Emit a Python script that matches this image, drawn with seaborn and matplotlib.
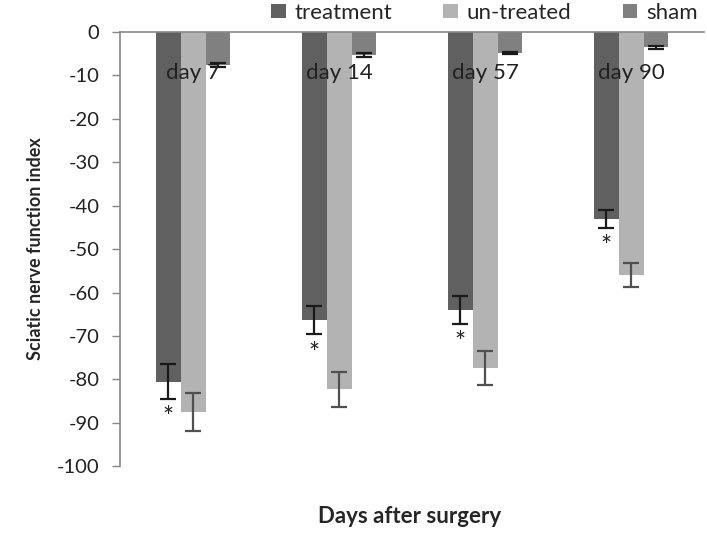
import numpy as np
import pandas as pd
import matplotlib
matplotlib.use('Agg')
import matplotlib.pyplot as plt
import matplotlib.transforms as mtransforms
import seaborn as sns

# values
days = ['day 7', 'day 14', 'day 57', 'day 90']
groups = ['treatment', 'un-treated', 'sham']
treatment = [-80.5, -66.3, -64.0, -43.0]
treatment_err = [4.0, 3.3, 3.2, 2.1]
untreated = [-87.6, -82.3, -77.4, -56.0]
untreated_err = [4.4, 4.0, 3.9, 2.8]
sham = [-7.6, -5.3, -4.8, -3.5]
sham_err = [0.5, 0.5, 0.3, 0.3]
significant = [True, True, True, True]  # asterisk under treatment bars

colors = ['#606060', '#b3b3b3', '#808080']
err_colors = ['#1a1a1a', '#505050', '#1a1a1a']

df = pd.DataFrame({
    'day': days * 3,
    'group': [g for g in groups for _ in days],
    'value': treatment + untreated + sham,
})
errs = [treatment_err, untreated_err, sham_err]

sns.set_style('white')
plt.rcParams['font.family'] = ['Lato', 'DejaVu Sans']
plt.rcParams['axes.unicode_minus'] = False

fig = plt.figure(figsize=(7.07, 5.34), dpi=100)
ax = fig.add_axes([0.170, 0.127, 0.826, 0.813])

sns.barplot(data=df, x='day', y='value', hue='group', hue_order=groups,
            palette=colors, width=0.51, gap=0, errorbar=None,
            saturation=1, linewidth=0, ax=ax)

# error bars at the centres of the drawn bars
for cont, e, ec in zip(ax.containers, errs, err_colors):
    xs = [p.get_x() + p.get_width() / 2 for p in cont.patches]
    ys = [p.get_y() + p.get_height() for p in cont.patches]
    ax.errorbar(xs, ys, yerr=e, fmt='none', ecolor=ec, elinewidth=1.6,
                capsize=5.5, capthick=1.6, zorder=3)

# asterisks below the treatment error bars
for p, e, sig in zip(ax.containers[0].patches, treatment_err, significant):
    if sig:
        x = p.get_x() + p.get_width() / 2
        y = p.get_y() + p.get_height() - e - 4.6
        ax.text(x, y, '*', ha='center', va='center', fontsize=19,
                color='#222222')

ax.set_ylim(-100, 0)
ax.set_xlim(-0.5, 3.5)
ax.set_yticks(np.arange(-100, 1, 10))
ax.tick_params(axis='y', left=True, length=6, width=1, color='#888888',
               labelsize=14.5, pad=9, labelcolor='#222222')
ax.set_xticks([])
ax.set_xlabel('')

# category labels sit just under the zero line
trans = mtransforms.blended_transform_factory(ax.transData, ax.transAxes)
for i, d in enumerate(days):
    ax.text(i, 0.905, d, transform=trans, ha='center', va='center',
            fontsize=16, color='#222222')

for side in ['right', 'bottom']:
    ax.spines[side].set_visible(False)
for side in ['left', 'top']:
    ax.spines[side].set_color('#888888')
    ax.spines[side].set_linewidth(1.2)

ax.set_ylabel('Sciatic nerve function index', fontsize=13, fontweight='bold',
              labelpad=9)
fig.text(0.580, 0.032, 'Days after surgery', ha='center', va='center',
         fontsize=16, fontweight='bold')

handles, labels = ax.get_legend_handles_labels()
ax.legend(handles, labels, ncol=3, loc='center',
          bbox_to_anchor=(0.685, 0.976), bbox_transform=fig.transFigure,
          frameon=False, fontsize=16, handlelength=0.65, handleheight=0.65,
          handletextpad=0.4, columnspacing=2.3)

fig.savefig('out.png', dpi=100)
